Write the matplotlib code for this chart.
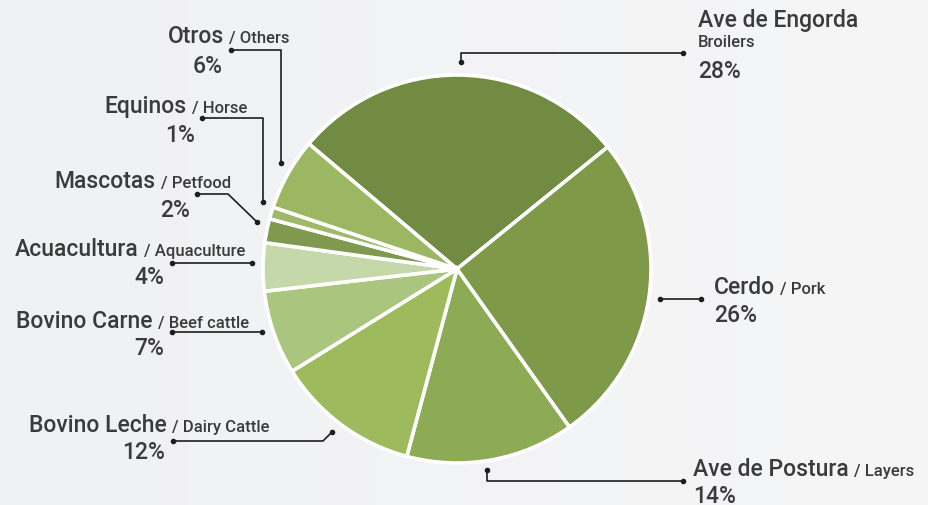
import matplotlib
matplotlib.use("Agg")
import matplotlib.pyplot as plt
import numpy as np

# ---- data ----
names_es = ["Ave de Engorda", "Cerdo", "Ave de Postura", "Bovino Leche", "Bovino Carne",
            "Acuacultura", "Mascotas", "Equinos", "Otros"]
names_en = ["Broilers", "Pork", "Layers", "Dairy Cattle", "Beef cattle",
            "Aquaculture", "Petfood", "Horse", "Others"]
values = [28, 26, 14, 12, 7, 4, 2, 1, 6]
colors = ["#728b42", "#7e9a48", "#8dab55", "#9dbb5c", "#aac57d",
          "#c4d8a9", "#7f994f", "#9fb86a", "#9cb762"]

W, H = 929, 505
fig = plt.figure(figsize=(W / 100, H / 100), dpi=100)
fig.patch.set_facecolor("#f1f2f4")
ax = fig.add_axes([0, 0, 1, 1])

def Y(py):
    return H - py

# soft background gradient
grad = np.linspace(0, 1, 256)[None, :]
c0 = np.array([0xf0, 0xf1, 0xf3]) / 255
c1 = np.array([0xf6, 0xf6, 0xf7]) / 255
img = c0[None, None, :] * (1 - grad[..., None]) + c1[None, None, :] * grad[..., None]
ax.imshow(img, extent=(0, W, 0, H), aspect="auto", zorder=0, interpolation="bilinear")

center = (457, Y(269))
radius = 194
ax.pie(values, colors=colors, startangle=139.8, counterclock=False,
       center=center, radius=radius, frame=True,
       wedgeprops=dict(edgecolor="white", linewidth=2.6, zorder=2))
ax.set_xlim(0, W)
ax.set_ylim(0, H)
ax.set_aspect("auto")
ax.axis("off")

FONT = "Roboto"
TXT = "#3b3b3b"
BIG = 16.5
SMALL = 12
WT = "medium"

# layout: (mode, x_split, baseline_main, pct_x, baseline_pct)
layout = {
    "Otros": ("left", 224, 43, 223, 73),
    "Equinos": ("left", 187, 113, 195, 142),
    "Mascotas": ("left", 156, 188, 190, 217),
    "Acuacultura": ("left", 139, 256, 164, 284),
    "Bovino Carne": ("left", 153, 328, 164, 355),
    "Bovino Leche": ("left", 167, 432, 165, 459),
    "Cerdo": ("right", 714, 294, 714, 322),
    "Ave de Postura": ("right", 693, 476, 693, 503),
}

kw = dict(family=FONT, color=TXT, va="baseline", fontweight=WT)
for es, en, v in zip(names_es, names_en, values):
    if es == "Ave de Engorda":
        ax.text(698, Y(27), es, fontsize=BIG, ha="left", **kw)
        ax.text(698, Y(47), en, fontsize=SMALL, ha="left", **kw)
        ax.text(698, Y(78), f"{v}%", fontsize=BIG, ha="left", **kw)
        continue
    mode, xs, yb, px, py = layout[es]
    if mode == "left":
        ax.text(xs, Y(yb), es, fontsize=BIG, ha="right", **kw)
        ax.text(xs + 5, Y(yb), "/ " + en, fontsize=SMALL, ha="left", **kw)
        ax.text(px, Y(py), f"{v}%", fontsize=BIG, ha="right", **kw)
    else:
        t = ax.text(xs, Y(yb), es, fontsize=BIG, ha="left", **kw)
        fig.canvas.draw()
        bb = t.get_window_extent()
        ax.text(bb.x1 + 5, Y(yb), "/ " + en, fontsize=SMALL, ha="left", **kw)
        ax.text(px, Y(py), f"{v}%", fontsize=BIG, ha="left", **kw)

# leader lines (pixel coordinates)
leaders = [
    [(683, 53), (461, 53), (461, 62)],
    [(660, 299), (701, 299)],
    [(683, 481), (487, 481), (487, 470)],
    [(173, 441), (323, 441), (332, 432)],
    [(172, 332), (262, 332)],
    [(172, 263), (252, 263)],
    [(197, 194), (228, 194), (257, 222)],
    [(202, 118), (263, 118), (263, 202)],
    [(231, 50), (281, 50), (281, 163)],
]
for pts in leaders:
    xs = [p[0] for p in pts]
    ys = [Y(p[1]) for p in pts]
    ax.plot(xs, ys, color="#1e1e1e", lw=1.2, solid_capstyle="butt", zorder=5)
    ax.plot([xs[0], xs[-1]], [ys[0], ys[-1]], "o", color="#1e1e1e", ms=3, zorder=6)

fig.savefig("out.png", dpi=100, facecolor=fig.get_facecolor())
